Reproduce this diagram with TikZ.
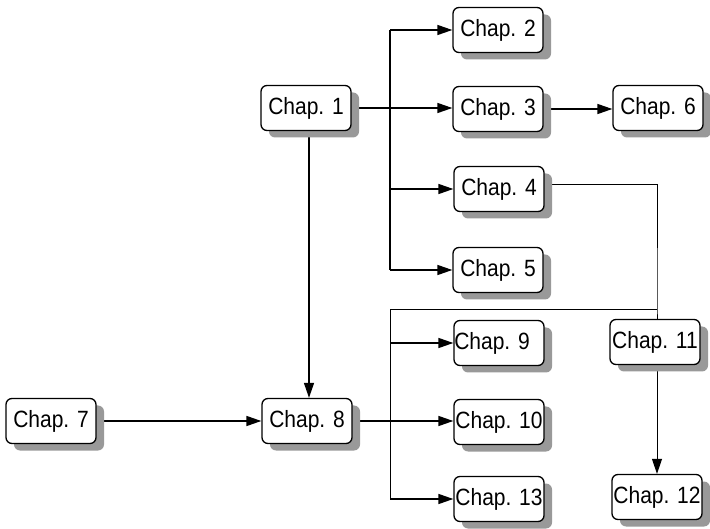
\documentclass[tikz,border=0pt]{standalone}
\usepackage{fontspec}
\setmainfont{Liberation Sans}
\usetikzlibrary{shadows,backgrounds,arrows.meta}
\newcommand{\chaptext}[1]{\scalebox{1}[1.12]{#1}}
\begin{document}
\begin{tikzpicture}[x=1pt,y=-1pt,
  chap/.style={draw=black, line width=1.3pt, rounded corners=6pt, fill=white,
    minimum width=90pt, minimum height=45pt, inner sep=0pt,
    font=\fontsize{21}{24}\selectfont,
    drop shadow={shadow xshift=8pt, shadow yshift=-7pt, draw=none, fill=black!40, opacity=1}},
  link/.style={line width=1.4pt},
  thinlink/.style={line width=1pt},
  conn/.style={line width=1.4pt, -{Triangle[length=15pt,width=10pt]}},
  thinconn/.style={line width=1pt, -{Triangle[length=15pt,width=10pt]}}
]
\useasboundingbox (0,0) rectangle (710,529);

\node[chap] (c1) at (306,108) {\chaptext{Chap. 1}};
\node[chap] (c2) at (498,30) {\chaptext{Chap. 2}};
\node[chap] (c3) at (498,109) {\chaptext{Chap. 3}};
\node[chap] (c6) at (658,108) {\chaptext{Chap. 6}};
\node[chap] (c4) at (499,189) {\chaptext{Chap. 4}};
\node[chap] (c5) at (498,270) {\chaptext{Chap. 5}};
\node[chap] (c9) at (499,343) {\hspace*{-14pt}\chaptext{Chap. 9}};
\node[chap] (c11) at (655,342) {\chaptext{Chap. 11}};
\node[chap] (c7) at (51,421) {\chaptext{Chap. 7}};
\node[chap] (c8) at (307,421) {\chaptext{Chap. 8}};
\node[chap] (c10) at (499,422) {\chaptext{Chap. 10}};
\node[chap] (c13) at (499,499) {\chaptext{Chap. 13}};
\node[chap] (c12) at (657,497) {\chaptext{Chap. 12}};

\coordinate (j1) at (390,108);
\coordinate (j2) at (657,310);
\coordinate (j3) at (390,310);

\begin{scope}[on background layer]
  % from Chap. 1
  \draw[conn] (c1.east) -- (c1.east -| c3.west);
  \draw[link] (j1 |- c2) -- (j1 |- c5);
  \draw[conn] (j1 |- c2) -- (c2.west);
  \draw[conn] (j1 |- c4) -- (c4.west);
  \draw[conn] (j1 |- c5) -- (c5.west);
  \draw[conn] ([xshift=3pt]c1.south) -- ([xshift=3pt]c1.south |- c8.north);
  % Chap. 3 -> Chap. 6
  \draw[conn] (c3.east) -- (c3.east -| c6.west);
  % Chap. 4 -> Chap. 11
  \draw[thinlink] ([yshift=4pt]c4.east) -| (j2) -- (j2 |- c11.north);
  % branch to 9, 10, 13
  \draw[thinlink] (j2) -- (j3) -- (j3 |- c13);
  \draw[conn] (j3 |- c9) -- (c9.west);
  \draw[conn] (j3 |- c13) -- (c13.west);
  % Chap. 7 -> Chap. 8 -> Chap. 10
  \draw[conn] (c7.east) -- (c8.west);
  \draw[conn] (c8.east) -- (c8.east -| c10.west);
  % Chap. 11 -> Chap. 12
  \draw[thinconn] (j2 |- c11.south) -- (j2 |- c12.north);
\end{scope}
\end{tikzpicture}
\end{document}
